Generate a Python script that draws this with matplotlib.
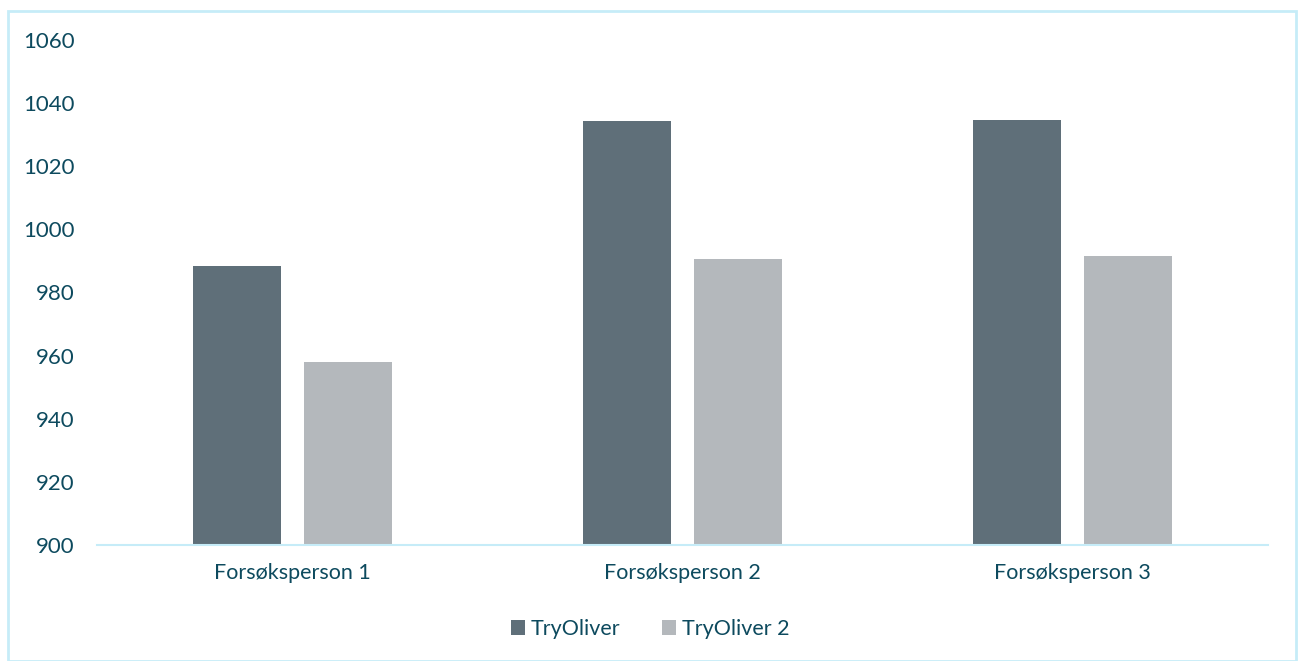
import numpy as np
import matplotlib.pyplot as plt
from matplotlib.patches import Rectangle

plt.rcParams['font.family'] = ['Lato', 'DejaVu Sans']

categories = ['Forsøksperson 1', 'Forsøksperson 2', 'Forsøksperson 3']
series_names = ['TryOliver', 'TryOliver 2']
try_oliver = [988.5, 1034.2, 1034.8]
try_oliver_2 = [958.0, 990.6, 991.7]
yticks = [900, 920, 940, 960, 980, 1000, 1020, 1040, 1060]

text_col = '#0d4a5e'
edge_col = '#c6ecf8'
colors = ['#5f6f79', '#b4b8bc']

fig = plt.figure(figsize=(13, 6.61), dpi=100)
ax = fig.add_axes([97/1300, 1 - 545/661, (1268-97)/1300, (545-40)/661])

x = np.arange(len(categories))
w = 0.225
ax.bar(x - 0.142, try_oliver, w, bottom=0, color=colors[0], label=series_names[0])
ax.bar(x + 0.142, try_oliver_2, w, bottom=0, color=colors[1], label=series_names[1])

ax.set_xlim(-0.5, 2.5)
ax.set_ylim(900, 1060)
ax.set_yticks(yticks)
ax.set_xticks(x)
ax.set_xticklabels(categories)
ax.tick_params(length=0, colors=text_col)
ax.tick_params(axis='y', pad=16, labelsize=16)
ax.tick_params(axis='x', pad=13, labelsize=15.5)
for s in ['top', 'right', 'left']:
    ax.spines[s].set_visible(False)
ax.spines['bottom'].set_color(edge_col)
ax.spines['bottom'].set_linewidth(1.5)

leg = fig.legend(loc='center', bbox_to_anchor=(0.5, 1 - 629/661), ncol=2, frameon=False,
                 fontsize=15.5, handlelength=0.65, handleheight=0.65, handletextpad=0.3,
                 columnspacing=1.9)
for t in leg.get_texts():
    t.set_color(text_col)

fig.patches.append(Rectangle((8/1300, 0), (1296-8)/1300, 1 - 11/661, transform=fig.transFigure,
                             fill=False, edgecolor=edge_col, linewidth=2))

fig.savefig('out.png', dpi=100)
